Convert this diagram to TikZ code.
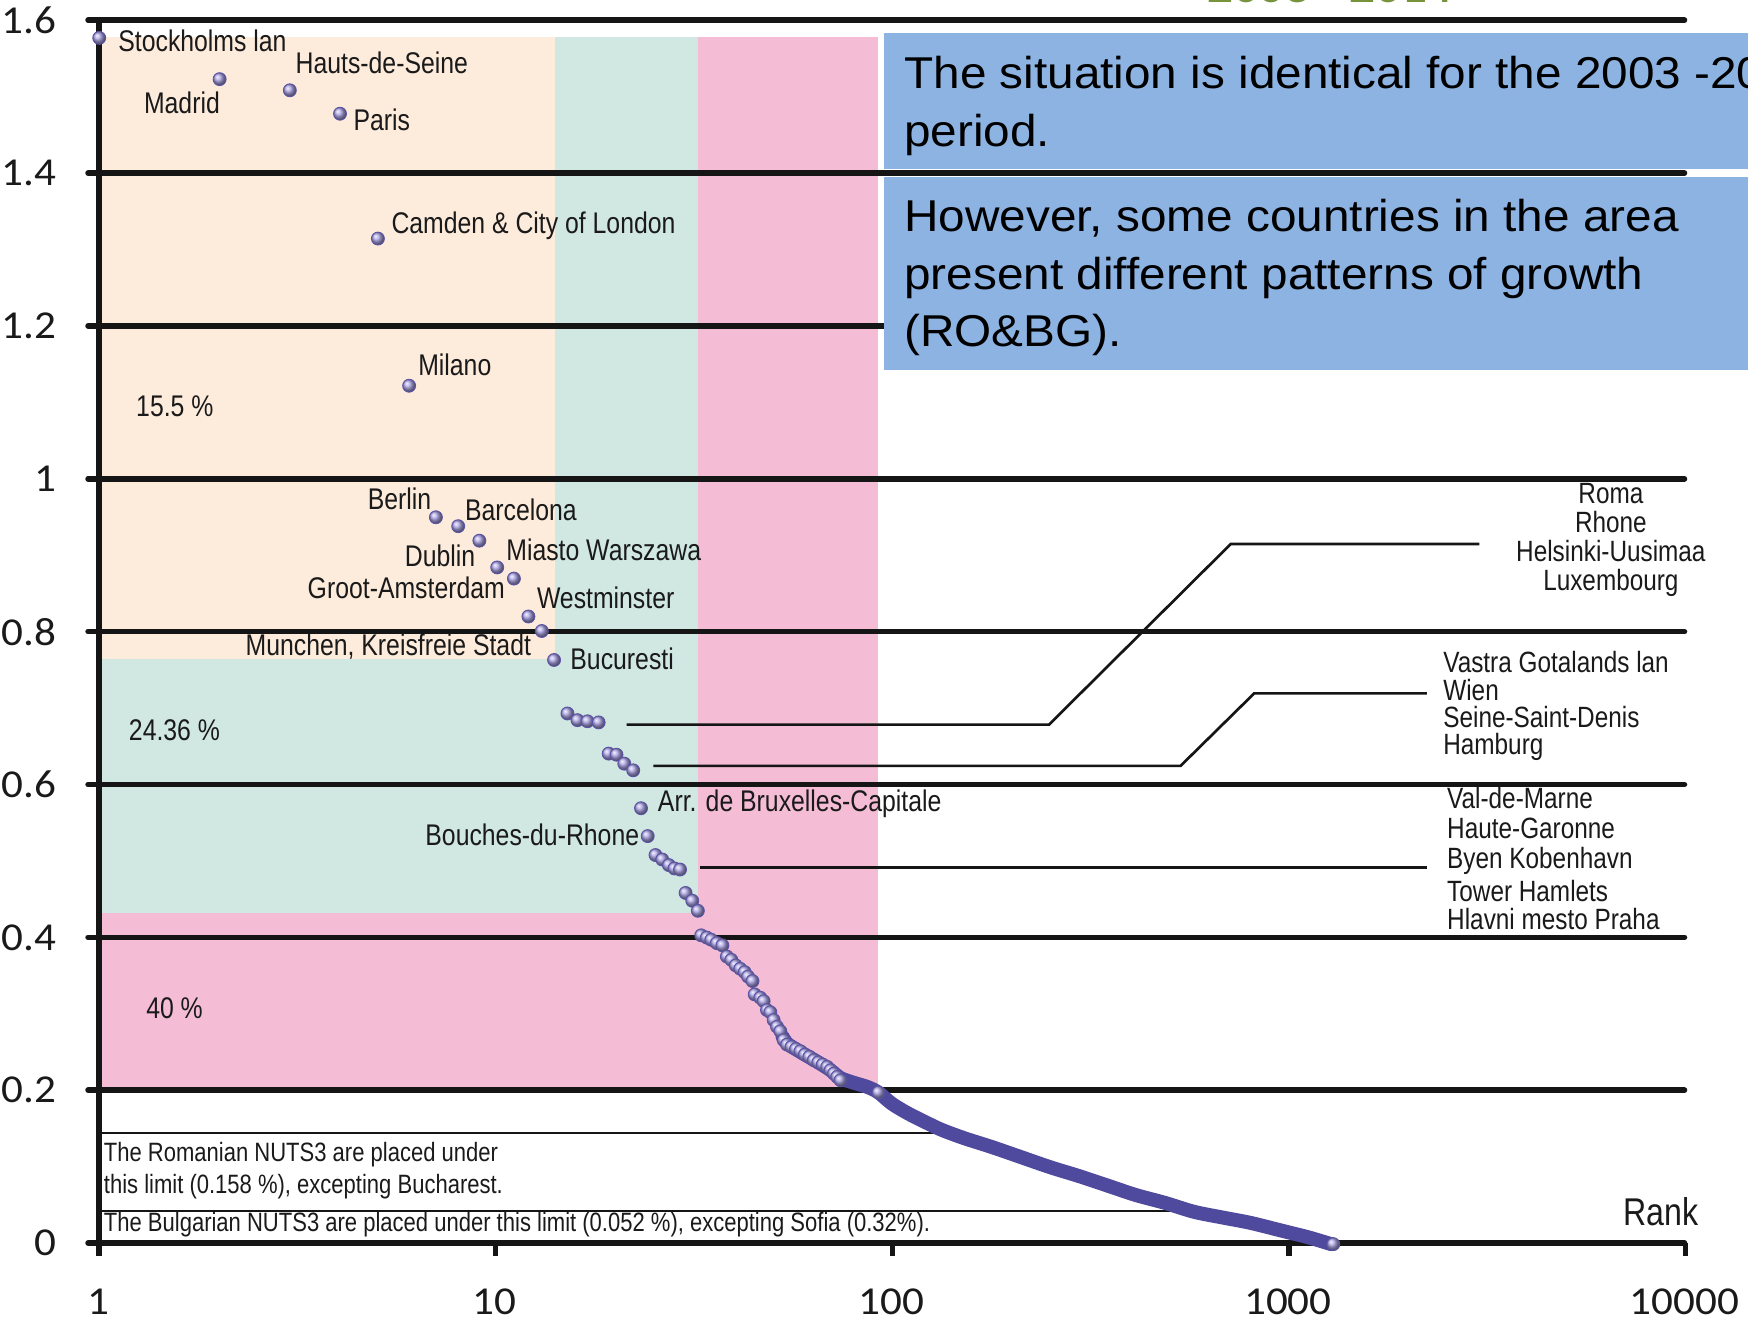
\documentclass[tikz,border=0pt]{standalone}
\usepackage{fontspec}
\setmainfont{Liberation Sans}
\newfontfamily\narrowf{Liberation Sans}[FakeStretch=0.83]
\newfontfamily\widef{Liberation Sans}[FakeStretch=1.07]
\newfontfamily\axisf{Carlito}[FakeStretch=1.09]
\definecolor{peach}{HTML}{FDEBDC}
\definecolor{mint}{HTML}{D0E7E2}
\definecolor{pinkz}{HTML}{F5BCD6}
\definecolor{boxblue}{HTML}{8DB3E2}
\definecolor{greent}{HTML}{77933C}
\definecolor{ballc}{RGB}{172,165,230}
\definecolor{ballo}{HTML}{5A53A6}
\definecolor{curvec}{HTML}{4F4A9E}
\definecolor{gridc}{HTML}{151515}
\definecolor{txtc}{HTML}{1A1A1A}
\begin{document}
\begin{tikzpicture}[x=1pt,y=-1pt,
  lbl/.style={font=\narrowf\fontsize{26.8}{30}\selectfont, inner sep=0pt, text=txtc},
  rlbl/.style={font=\narrowf\fontsize{26.3}{29}\selectfont, inner sep=0pt, text=txtc},
  note/.style={font=\narrowf\fontsize{23.8}{28}\selectfont, inner sep=0pt, text=txtc, anchor=base west},
  boxtxt/.style={font=\widef\fontsize{40}{50}\selectfont, inner sep=0pt, anchor=base west, text=black},
  axl/.style={font=\axisf\fontsize{35.5}{40}\selectfont, inner sep=0pt, text=txtc},
  gridln/.style={line width=5pt, draw=gridc, line cap=round},
  thinln/.style={line width=2pt, draw=gridc},
  conn/.style={line width=2.4pt, draw=gridc, line join=miter},
  datapt/.style={ball color=ballc, draw=ballo, line width=0.8pt},
]
\useasboundingbox (0,0) rectangle (1568,1185);
\fill[white] (0,0) rectangle (1568,1185);

% coloured zones
\fill[pinkz] (89,33) rectangle (788,978);
\fill[mint]  (89,33) rectangle (626,819);
\fill[peach] (89,33) rectangle (498,591);

% thin limit lines
\coordinate (roA) at (89,1016);
\coordinate (roB) at (840,1016);
\coordinate (bgA) at (89,1086);
\coordinate (bgB) at (1052,1086);
\draw[thinln] (roA) -- (roB);
\draw[thinln] (bgA) -- (bgB);

% grid lines
\foreach \k in {0,...,8}
  \draw[gridln] (79,{1115-137.1*\k}) -- (1511,{1115-137.1*\k});
% y axis and ticks
\draw[line width=5pt, draw=gridc] (89,16) -- (89,1127);
\foreach \k in {1,2,3,4}
  \draw[line width=4.5pt, draw=gridc] ({89+355.75*\k},1115) -- ({89+355.75*\k},1127);

% connectors
\coordinate (c1a) at (562,650);
\coordinate (c1b) at (941,650);
\coordinate (c1c) at (1104,488);
\coordinate (c1d) at (1327,488);
\draw[conn] (c1a) -- (c1b) -- (c1c) -- (c1d);
\coordinate (c2a) at (586,687);
\coordinate (c2b) at (1059,687);
\coordinate (c2c) at (1125,622);
\coordinate (c2d) at (1280,622);
\draw[conn] (c2a) -- (c2b) -- (c2c) -- (c2d);
\coordinate (c3a) at (628,778);
\coordinate (c3b) at (1280,778);
\draw[conn] (c3a) -- (c3b);

% dense part of the curve
\draw[curvec, line width=12.5pt, line cap=round, line join=round]
  plot[smooth, tension=0.5] coordinates {(702,930) (706,936) (712,940) (722,946) (734,953) (745,960) (754,967) (765,971) (778,975) (788,980) (800,990) (815,999) (835,1009) (846,1014) (865,1021) (890,1029) (916,1038) (942,1047) (968,1055) (995,1064) (1019,1072) (1045,1079) (1071,1087) (1096,1092) (1122,1097) (1150,1104) (1174,1110) (1194,1116)};

% data points
\foreach \x/\y in {89/34, 197/71, 260/81, 305/102, 339/214, 367/346, 391/464, 411/472, 430/485, 446/509, 461/519, 474/553, 486/566, 497/592,
  509/640, 518/646, 527/647, 537/648, 546/676, 553/677, 560/685, 568/691, 575/725, 581/750,
  588/767, 594/771, 600/776, 605/779, 610/780, 615/801, 621/808, 626/817,
  629/839, 634/841, 638/843, 643/846, 648/848, 652/858, 656/861, 660/866, 664/869, 668/872, 671/876, 675/880,
  677/892, 682/895, 685/898, 688/906, 691/908, 694/915, 697/921, 700/925,
  703/933, 706/937, 710/939, 714/941, 718/943, 722/946, 726/948, 730/951, 734/953, 738/955, 742/957, 745/960, 748/963, 751/966, 754/969, 788/980, 1196/1116}
  \shadedraw[datapt] (\x,\y) circle (5.8);

% point labels
\node[lbl, anchor=base west] (stock) at (106,46.5) {Stockholms lan};
\node[lbl, anchor=base west] (hauts) at (265,65.5) {Hauts-de-Seine};
\node[lbl, anchor=base west] (madrid) at (129,102) {Madrid};
\node[lbl, anchor=base west] (paris) at (317,117) {Paris};
\node[lbl, anchor=base west] (camden) at (351,209.5) {Camden \& City of London};
\node[lbl, anchor=base west] (milano) at (375,336.5) {Milano};
\node[lbl, anchor=base west] (p155) at (122,373.5) {15.5 \%};
\node[lbl, anchor=base east] (berlin) at (387,457) {Berlin};
\node[lbl, anchor=base west] (barca) at (417,466.5) {Barcelona};
\node[lbl, anchor=base east] (dublin) at (426.5,508.5) {Dublin};
\node[lbl, anchor=base west] (warsz) at (454,502.5) {Miasto Warszawa};
\node[lbl, anchor=base east] (groot) at (453,536.5) {Groot-Amsterdam};
\node[lbl, anchor=base west] (westm) at (481.5,546) {Westminster};
\node[lbl, anchor=base east] (munch) at (476.5,588) {Munchen, Kreisfreie Stadt};
\node[lbl, anchor=base west] (bucur) at (511.5,600.5) {Bucuresti};
\node[lbl, anchor=base west] (p2436) at (115.5,664) {24.36 \%};
\node[lbl, anchor=base west] (bruxl) at (590,728) {Arr. de Bruxelles-Capitale};
\node[lbl, anchor=base east] (bouch) at (573.5,758.5) {Bouches-du-Rhone};
\node[lbl, anchor=base west] (p40) at (131,913.5) {40 \%};

% right-hand labels
\node[rlbl, anchor=base] (roma) at (1445,451.5) {Roma};
\node[rlbl, anchor=base] (rhone) at (1445,478) {Rhone};
\node[rlbl, anchor=base] (helsi) at (1445,504) {Helsinki-Uusimaa};
\node[rlbl, anchor=base] (luxem) at (1445,530) {Luxembourg};
\node[rlbl, anchor=base west] (vastra) at (1294.5,603.5) {Vastra Gotalands lan};
\node[rlbl, anchor=base west] (wien) at (1294.5,628) {Wien};
\node[rlbl, anchor=base west] (ssd) at (1294.5,652.5) {Seine-Saint-Denis};
\node[rlbl, anchor=base west] (hambg) at (1294.5,676.5) {Hamburg};
\node[rlbl, anchor=base west] (vdm) at (1298,725) {Val-de-Marne};
\node[rlbl, anchor=base west] (hgar) at (1298,752) {Haute-Garonne};
\node[rlbl, anchor=base west] (byen) at (1298,779.5) {Byen Kobenhavn};
\node[rlbl, anchor=base west] (tower) at (1298,809) {Tower Hamlets};
\node[rlbl, anchor=base west] (hlav) at (1298,834) {Hlavni mesto Praha};

% notes at the bottom
\node[note] (ro1) at (93,1042) {The Romanian NUTS3 are placed under};
\node[note] (ro2) at (93,1070.5) {this limit (0.158 \%), excepting Bucharest.};
\node[note] (bg1) at (93,1105) {The Bulgarian NUTS3 are placed under this limit (0.052 \%), excepting Sofia (0.32\%).};
\node[lbl, font=\narrowf\fontsize{34.7}{38}\selectfont, anchor=base west] (rank) at (1456,1099.5) {Rank};

% blue boxes
\fill[boxblue] (793,30) rectangle (1568,152);
\fill[boxblue] (793,159) rectangle (1568,332);
\node[boxtxt] (bt1) at (811,79) {The situation is identical for the 2003 -2014};
\node[boxtxt] (bt2) at (811,131) {period.};
\node[boxtxt] (bt3) at (811,208) {However, some countries in the area};
\node[boxtxt] (bt4) at (811,260) {present different patterns of growth};
\node[boxtxt] (bt5) at (811,311) {(RO\&BG).};

% axis labels
\foreach \v/\t in {0/0, 1/0.2, 2/0.4, 3/0.6, 4/0.8, 5/1, 6/1.2, 7/1.4, 8/1.6}
  \node[axl, anchor=east] (y\v) at (50.5,{1115-137.1*\v}) {\t};
\foreach \k/\t in {0/1, 1/10, 2/100, 3/1000, 4/10000}
  \node[axl, anchor=base] (x\k) at ({88+355.75*\k},1179.5) {\t};

% title fragment at the top
\node[font=\axisf\bfseries\fontsize{42}{46}\selectfont, text=greent, anchor=base, inner sep=0pt] (title) at (1193,2.5) {2003 - 2014};
\end{tikzpicture}
\end{document}
